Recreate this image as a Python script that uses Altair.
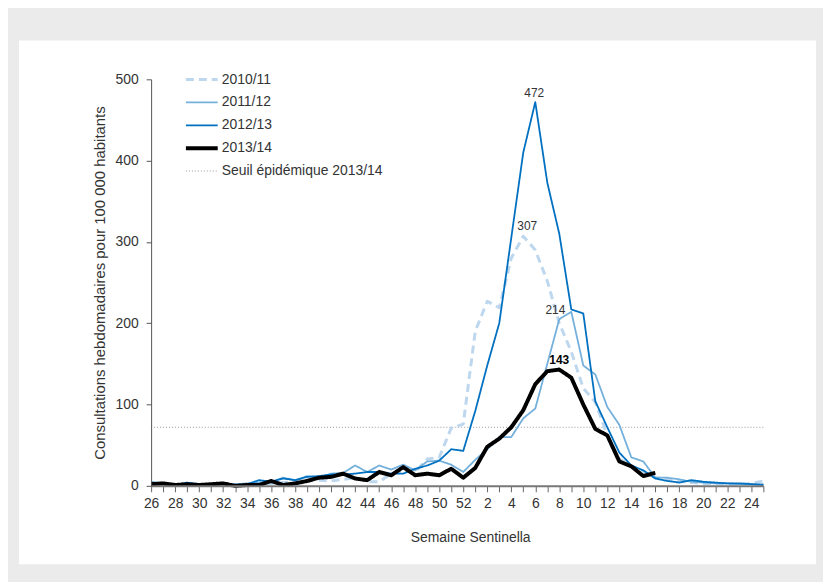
import altair as alt
import pandas as pd

weeks = list(range(26, 53)) + list(range(1, 26))

s_2010_11 = [2, 2, 1, 2, 1, 1, 2, 1, 1, 2, 3, 4, 5, 7, 7, 6, 8, 10, 5, 5, 15, 18, 17, 33, 35, 71, 76,
             190, 227, 219, 280, 307, 290, 252, 200, 165, 120, 103, 62, 33, 25, 18, 10, 8, 6, 4, 3, 3, 2, 2, 3, 6]
s_2011_12 = [5, 3, 2, 2, 2, 2, 3, 2, 3, 4, 5, 10, 7, 12, 10, 15, 16, 25, 17, 25, 20, 26, 19, 30, 31, 26, 17,
             32, 45, 60, 60, 83, 95, 150, 205, 214, 148, 137, 97, 75, 35, 30, 10, 10, 8, 5, 4, 3, 3, 2, 2, 2]
s_2012_13 = [3, 2, 1, 4, 2, 1, 2, 1, 2, 7, 5, 9, 7, 11, 12, 14, 14, 15, 17, 17, 15, 15, 21, 25, 31, 45, 43,
             92, 148, 200, 305, 410, 472, 373, 310, 217, 212, 104, 72, 41, 25, 19, 9, 6, 4, 7, 5, 4, 3, 3, 2, 1]
s_2013_14 = [2, 3, 1, 2, 1, 2, 3, 0, 1, 1, 6, 1, 3, 6, 10, 11, 15, 9, 7, 17, 13, 23, 13, 15, 13, 21, 10,
             22, 48, 58, 72, 93, 125, 141, 143, 133, 100, 70, 62, 30, 24, 12, 16] + [None] * 9
threshold = 72

series_names = ["2010/11", "2011/12", "2012/13", "2013/14", "Seuil épidémique 2013/14"]
series_colors = ["#bdd7ee", "#74b0dc", "#0070c0", "#000000", "#999999"]
series_dash = [[8, 5], [1, 0], [1, 0], [1, 0], [1, 2]]
series_width = [3, 1.8, 1.8, 4, 1]

rows = []
for name, vals in zip(series_names[:4], [s_2010_11, s_2011_12, s_2012_13, s_2013_14]):
    for i, (w, v) in enumerate(zip(weeks, vals)):
        if v is not None:
            rows.append({"idx": i, "week": w, "series": name, "value": v})
df = pd.DataFrame(rows)
thr_df = pd.DataFrame([{"series": series_names[4], "value": threshold}])

annotations = pd.DataFrame([
    {"key": "472", "idx": 32, "value": 472},
    {"key": "307", "idx": 31, "value": 307},
    {"key": "214", "idx": 35, "value": 214},
    {"key": "143", "idx": 34, "value": 143},
])

FONT = "Liberation Sans"
TXT = "#333333"

color = alt.Color("series:N", scale=alt.Scale(domain=series_names, range=series_colors), title=None)
dash = alt.StrokeDash("series:N", scale=alt.Scale(domain=series_names, range=series_dash), title=None)
width = alt.StrokeWidth("series:N", scale=alt.Scale(type="ordinal", domain=series_names, range=series_width), title=None)

x_enc = alt.X(
    "idx:O",
    scale=alt.Scale(type="point", domain=list(range(52)), padding=0),
    axis=alt.Axis(
        labelExpr="datum.value % 2 == 0 ? (datum.value <= 26 ? datum.value + 26 : datum.value - 26) : ''",
        title="Semaine Sentinella",
        grid=False,
        tickSize=6,
        tickColor="#666666",
        domainColor="#777777",
        domainWidth=2,
        labelFontSize=14,
        labelColor=TXT,
        labelPadding=5,
        labelAngle=0,
        labelFlush=False,
        labelOverlap=False,
        titleFontSize=14,
        titleFontWeight="normal",
        titleColor=TXT,
        titleX=321,
        titleY=52,
        titleBaseline="middle",
        zindex=1,
    ),
)
y_enc = alt.Y(
    "value:Q",
    scale=alt.Scale(domain=[0, 500], nice=False),
    axis=alt.Axis(
        values=[0, 100, 200, 300, 400, 500],
        title="Consultations hebdomadaires pour 100 000 habitants",
        grid=False,
        tickSize=5,
        tickColor="#555555",
        domainColor="#555555",
        labelFontSize=14,
        labelColor=TXT,
        labelPadding=8,
        titleFontSize=15,
        titleFontWeight="normal",
        titleColor=TXT,
        titlePadding=8,
        zindex=1,
    ),
)

panel = alt.Chart(alt.Data(values=[{}])).mark_rect(fill="white", clip=False).encode(
    x=alt.value(-133), x2=alt.value(669), y=alt.value(-39), y2=alt.value(488)
)

rule = alt.Chart(thr_df).mark_rule().encode(
    y=y_enc, color=color, strokeDash=dash, strokeWidth=width
)

lines = alt.Chart(df).mark_line(strokeJoin="round").encode(
    x=x_enc, y=y_enc, color=color, strokeDash=dash, strokeWidth=width
)

def label(key, dx, dy, bold=False, align="center"):
    return alt.Chart(annotations).transform_filter(
        alt.datum.key == key
    ).mark_text(
        dx=dx, dy=dy, fontSize=12, font=FONT, color="#000000" if bold else TXT,
        fontWeight="bold" if bold else "normal", align=align, baseline="middle"
    ).encode(x=alt.X("idx:O"), y="value:Q", text="key:N")

chart = alt.layer(
    panel, rule, lines,
    label("472", -1, -9),
    label("307", 4, -10),
    label("214", -6, -2, align="right"),
    label("143", 0, -10, bold=True),
).properties(
    width=616,
    height=409,
    background="#ebebeb",
    padding={"left": 144, "top": 70, "right": 60, "bottom": 95},
    autosize=alt.AutoSizeParams(type="none"),
).configure(
    font=FONT,
).configure_view(
    strokeWidth=0,
).configure_legend(
    orient="none",
    legendX=33,
    legendY=-11,
    symbolType="stroke",
    symbolSize=1024,
    clipHeight=22.5,
    labelFontSize=14,
    labelColor=TXT,
    labelOffset=2,
    labelLimit=300,
    rowPadding=0,
    labelFont=FONT,
)

chart.save("out.html", embed_options={"renderer": "svg", "actions": False})
